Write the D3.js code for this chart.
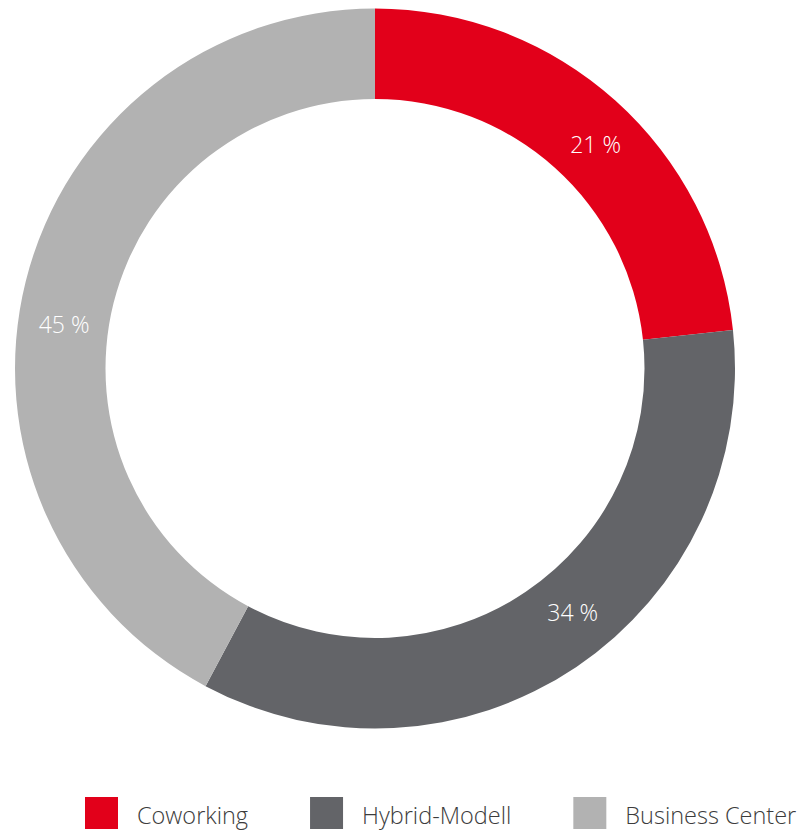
<!DOCTYPE html>
<html>
<head>
<meta charset="utf-8">
<script src="https://cdn.jsdelivr.net/npm/d3@7"></script>
<style>
  html, body { margin: 0; padding: 0; background: #fff; }
  svg { display: block; }
  text { font-family: "Open Sans", "Noto Sans", sans-serif; font-weight: 300; }
</style>
</head>
<body>
<svg id="chart" width="806" height="833"></svg>
<script>
// Data
const categories = ["Coworking", "Hybrid-Modell", "Business Center"];
const values = [23.3, 34.5, 42.2];          // slice sizes as drawn
const valueLabels = ["21 %", "34 %", "45 %"]; // printed labels
const colors = ["#e2001a", "#636468", "#b2b2b2"];

// Layout
const W = 806, H = 833;
const cx = 375, cy = 368.5;
const outerR = 360, innerR = 269.5;
const labelR = 314;
const labelShiftDeg = [2.7, -5, -6];

const svg = d3.select("#chart");
const g = svg.append("g").attr("transform", `translate(${cx},${cy})`);

const pie = d3.pie().sort(null).value(d => d.v);
const data = categories.map((c, i) => ({ c, v: values[i], label: valueLabels[i], color: colors[i] }));
const arcs = pie(data);

const arc = d3.arc().innerRadius(innerR).outerRadius(outerR);

g.selectAll("path.slice")
  .data(arcs)
  .join("path")
  .attr("class", "slice")
  .attr("d", arc)
  .attr("fill", d => d.data.color);

g.selectAll("text.val")
  .data(arcs)
  .join("text")
  .attr("class", "val")
  .attr("transform", (d, i) => {
    const a = (d.startAngle + d.endAngle) / 2 + labelShiftDeg[i] * Math.PI / 180;
    return `translate(${labelR * Math.sin(a)},${-labelR * Math.cos(a)})`;
  })
  .attr("text-anchor", "middle")
  .attr("dy", "0.35em")
  .attr("fill", "#ffffff")
  .style("font-size", "23px")
  .text(d => d.data.label);

// Legend (items laid out sequentially)
const legendStart = 85, swatchW = 33, swatchH = 32, textGap = 52, itemGap = 62;
const lg = svg.append("g").selectAll("g.item")
  .data(data)
  .join("g")
  .attr("class", "item");

lg.append("rect")
  .attr("width", swatchW)
  .attr("height", swatchH)
  .attr("fill", d => d.color);

lg.append("text")
  .attr("x", textGap)
  .attr("y", 27)
  .attr("fill", "#3c3c3c")
  .style("font-size", "23.5px")
  .text(d => d.c);

let xPos = legendStart;
lg.each(function () {
  const item = d3.select(this);
  item.attr("transform", `translate(${xPos},797)`);
  const w = item.select("text").node().getComputedTextLength();
  xPos += textGap + w + itemGap;
});
</script>
</body>
</html>
